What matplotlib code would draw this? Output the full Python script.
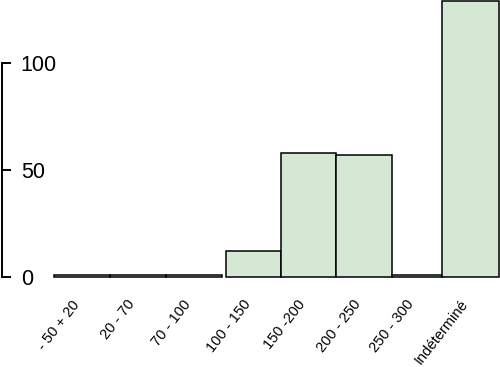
import matplotlib.pyplot as plt
import numpy as np

categories = ['- 50 + 20', '20 - 70', '70 - 100', '100 - 150', '150 -200',
              '200 - 250', '250 - 300', 'Indéterminé']
counts = [1, 1, 1, 12, 58, 57, 1, 129]

# bar widths as drawn in the original (not quite uniform), gap after the 3rd bar
widths = np.array([1.0, 1.0, 1.0, 0.98, 0.98, 1.0, 0.89, 1.03])
gaps = np.array([0, 0, 0, 0.07, 0, 0, 0, 0])
lefts = np.concatenate([[0], np.cumsum(widths)[:-1]]) + np.cumsum(gaps)
centers = lefts + widths / 2

plt.rcParams['font.family'] = ['Liberation Sans', 'DejaVu Sans']

fig = plt.figure(figsize=(5, 3.67), dpi=100)
ax = fig.add_axes([0.004, 90.3 / 367, 0.996, 1 - 90.3 / 367])

ax.bar(lefts, counts, width=widths, align='edge', color='#d5e8d4',
       edgecolor='black', linewidth=1.1, clip_on=False)

ax.set_xlim(-52 / 56, 446 / 56)
ax.set_ylim(0, 129.3)

for s in ['top', 'right', 'bottom']:
    ax.spines[s].set_visible(False)
ax.spines['left'].set_bounds(0, 100)
ax.spines['left'].set_linewidth(1.4)

ax.set_yticks([0, 50, 100])
ax.tick_params(axis='y', direction='in', length=6.5, width=1.4,
               pad=-13.5, labelsize=15.5)
for lab in ax.get_yticklabels():
    lab.set_horizontalalignment('left')

ax.set_xticks(centers)
ax.set_xticklabels(categories, rotation=52, ha='right', fontsize=10.5)
ax.tick_params(axis='x', length=0, pad=15)

fig.savefig('out.png', dpi=100)
